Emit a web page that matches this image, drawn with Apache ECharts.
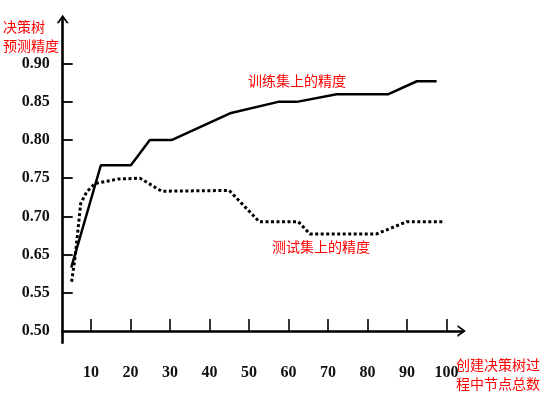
<!DOCTYPE html>
<html>
<head>
<meta charset="utf-8">
<script src="https://cdn.jsdelivr.net/npm/echarts@6/dist/echarts.min.js"></script>
<style>
html,body{margin:0;padding:0;background:#fff;}
#chart{width:552px;height:395px;}
</style>
</head>
<body>
<div id="chart"></div>
<script>
// Y tick labels (the original axis skips 0.60)
var yTickLabels = ['0.50', '0.55', '0.65', '0.70', '0.75', '0.80', '0.85', '0.90'];
var yTickValues = [0.50, 0.55, 0.65, 0.70, 0.75, 0.80, 0.85, 0.90];
var xTickValues = [10, 20, 30, 40, 50, 60, 70, 80, 90, 100];

// Accuracy on training set (solid)
var trainX = [5.0, 12.5, 20.1, 24.9, 30.4, 45.2, 57.4, 62.1, 72.2, 85.3, 92.5, 97.5];
var trainY = [0.616, 0.767, 0.767, 0.800, 0.800, 0.835, 0.850, 0.850, 0.860, 0.860, 0.877, 0.877];

// Accuracy on test set (dashed)
var testX = [5.1, 6.0, 7.4, 8.9, 11.0, 16.9, 22.4, 27.9, 45.0, 52.6, 62.5, 65.4, 82.3, 89.9, 99.6];
var testY = [0.579, 0.645, 0.717, 0.732, 0.743, 0.749, 0.750, 0.733, 0.734, 0.693, 0.693, 0.677, 0.677, 0.693, 0.693];

// map an accuracy value to its position on the (unevenly labelled) axis
function toPos(v) {
  for (var i = 0; i < yTickValues.length - 1; i++) {
    var a = yTickValues[i], b = yTickValues[i + 1];
    if (v <= b || i === yTickValues.length - 2) {
      return i + (v - a) / (b - a);
    }
  }
}
function pairs(xs, ys) {
  return xs.map(function (x, i) { return [x, toPos(ys[i])]; });
}

var chart = echarts.init(document.getElementById('chart'));
var labelFont = { fontFamily: 'Liberation Serif', fontSize: 16, fontWeight: 'bold', color: '#111' };
var red = '#ff0000';
var cjk = '"Noto Sans CJK SC", sans-serif';
var chevron = 'path://M0,14 L10,0 L20,14 L16.5,14 L10,5 L3.5,14 Z';

chart.setOption({
  animation: false,
  backgroundColor: '#fff',
  grid: { left: 62.7, right: 90.3, top: 19, bottom: 52.2, containLabel: false },
  xAxis: {
    type: 'value', min: 2.84, max: 103.85,
    splitLine: { show: false },
    axisLine: { show: true, lineStyle: { color: '#000', width: 2.6 }, symbol: ['none', chevron], symbolSize: [12, 10] },
    axisTick: { show: true, inside: true, length: 12, lineStyle: { color: '#000', width: 1.6 }, customValues: xTickValues },
    axisLabel: Object.assign({ margin: 22, customValues: xTickValues, formatter: function (v) { return String(Math.round(v)); } }, labelFont)
  },
  yAxis: {
    type: 'value', min: -0.31, max: 8.17,
    splitLine: { show: false },
    axisLine: { show: true, lineStyle: { color: '#000', width: 2.6 }, symbol: ['none', chevron], symbolSize: [12, 10] },
    axisTick: { show: true, inside: true, length: 10, lineStyle: { color: '#000', width: 1.8 }, customValues: [1, 2, 3, 4, 5, 6, 7] },
    axisLabel: Object.assign({ margin: 13, padding: [8, 0, 0, 0], customValues: [0, 1, 2, 3, 4, 5, 6, 7], formatter: function (v) { return yTickLabels[Math.round(v)]; } }, labelFont)
  },
  series: [
    {
      name: '训练集上的精度', type: 'line', data: pairs(trainX, trainY),
      symbol: 'none', lineStyle: { color: '#000', width: 2.5 }, z: 3
    },
    {
      name: '测试集上的精度', type: 'line', data: pairs(testX, testY),
      symbol: 'none', lineStyle: { color: '#000', width: 3, type: [3, 2.5] }, z: 3
    }
  ],
  graphic: [
    { type: 'text', x: 3, y: 27, style: { text: '决策树', fill: red, font: '14px ' + cjk, textVerticalAlign: 'middle' } },
    { type: 'text', x: 3, y: 46, style: { text: '预测精度', fill: red, font: '14px ' + cjk, textVerticalAlign: 'middle' } },
    { type: 'text', x: 248, y: 81, style: { text: '训练集上的精度', fill: red, font: '14px ' + cjk, textVerticalAlign: 'middle' } },
    { type: 'text', x: 272, y: 247, style: { text: '测试集上的精度', fill: red, font: '14px ' + cjk, textVerticalAlign: 'middle' } },
    { type: 'text', x: 456, y: 365, style: { text: '创建决策树过', fill: red, font: '14px ' + cjk, textVerticalAlign: 'middle' } },
    { type: 'text', x: 456, y: 383.5, style: { text: '程中节点总数', fill: red, font: '14px ' + cjk, textVerticalAlign: 'middle' } }
  ]
});
</script>
</body>
</html>
